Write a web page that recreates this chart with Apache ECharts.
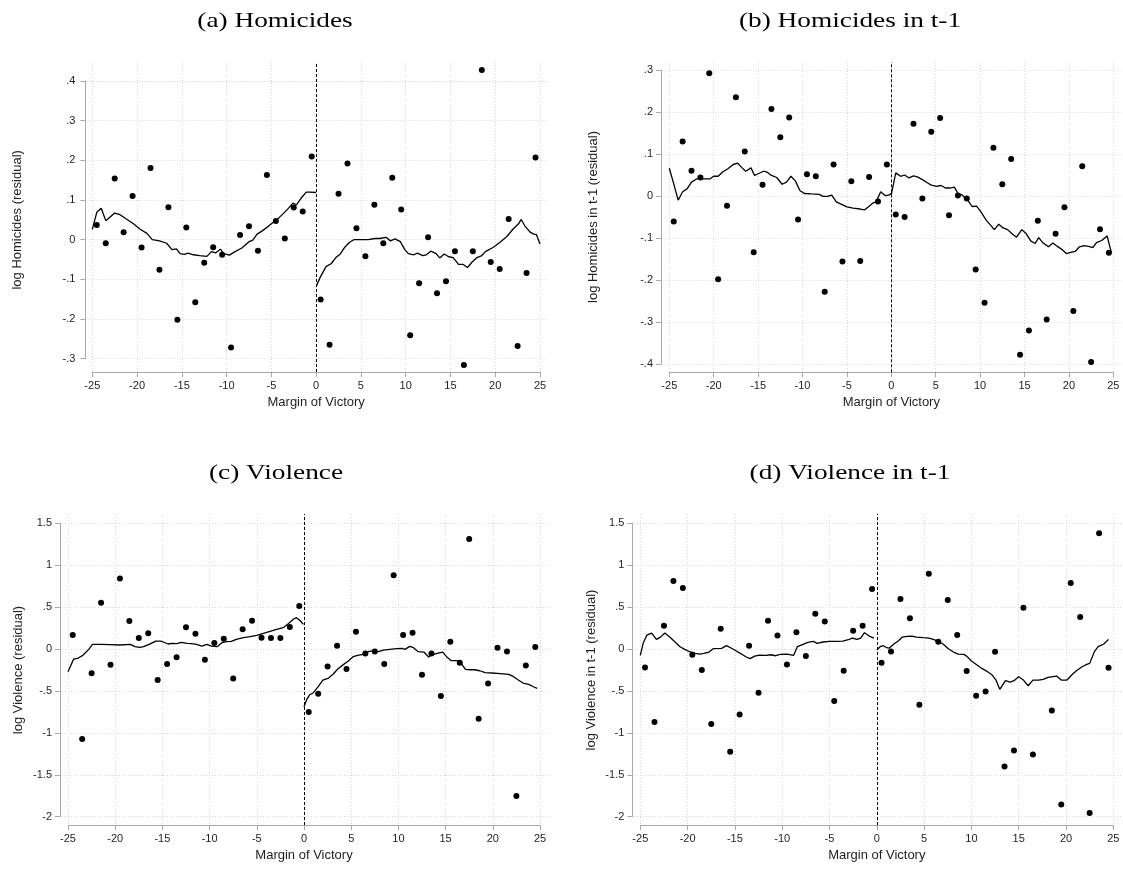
<!DOCTYPE html>
<html><head><meta charset="utf-8">
<script src="https://cdn.jsdelivr.net/npm/echarts@6/dist/echarts.min.js"></script>
<style>html,body{margin:0;padding:0;background:#fff}#c{width:1123px;height:869px}</style>
</head><body><div id="c"></div>
<script>
// ---------- data ----------
const binX = [-24.5,-23.5,-22.5,-21.5,-20.5,-19.5,-18.5,-17.5,-16.5,-15.5,-14.5,-13.5,-12.5,-11.5,-10.5,-9.5,-8.5,-7.5,-6.5,-5.5,-4.5,-3.5,-2.5,-1.5,-0.5,
              0.5,1.5,2.5,3.5,4.5,5.5,6.5,7.5,8.5,9.5,10.5,11.5,12.5,13.5,14.5,15.5,16.5,17.5,18.5,19.5,20.5,21.5,22.5,23.5,24.5];
const xTicks = [-25,-20,-15,-10,-5,0,5,10,15,20,25];
const yTicksHom = [-0.3,-0.2,-0.1,0,0.1,0.2,0.3,0.4];
const yTicksHomLag = [-0.4,-0.3,-0.2,-0.1,0,0.1,0.2,0.3];
const yTicksVio = [-2,-1.5,-1,-0.5,0,0.5,1,1.5];

const homDots = [0.037,-0.009,0.154,0.019,0.110,-0.020,0.181,-0.076,0.082,-0.202,0.031,-0.158,-0.058,-0.019,-0.038,-0.272,0.012,0.034,-0.028,0.163,0.047,0.003,0.081,0.071,0.210,
  -0.151,-0.265,0.116,0.192,0.029,-0.042,0.088,-0.009,0.156,0.076,-0.241,-0.110,0.006,-0.135,-0.105,-0.029,-0.316,-0.029,0.428,-0.056,-0.074,0.052,-0.268,-0.084,0.207];
const homFitL = [[-25,0.026],[-24.5,0.069],[-24,0.079],[-23.5,0.048],[-22.5,0.067],[-21.9,0.063],[-21.2,0.052],[-20.4,0.040],[-19.7,0.027],[-18.9,0.016],[-18.3,0.0],[-17.5,-0.003],[-16.7,-0.009],[-16.1,-0.025],[-15.6,-0.023],[-15.2,-0.035],[-14.7,-0.037],[-14.3,-0.034],[-13.7,-0.038],[-13,-0.04],[-12.2,-0.042],[-11.7,-0.03],[-11.2,-0.033],[-10.7,-0.024],[-10.3,-0.035],[-9.7,-0.039],[-9.2,-0.032],[-8.3,-0.021],[-7.5,-0.005],[-7.1,-0.002],[-6.6,0.014],[-6.1,0.021],[-5.5,0.031],[-5,0.040],[-4.4,0.050],[-3.7,0.065],[-3.1,0.079],[-2.6,0.092],[-2.2,0.088],[-1.6,0.107],[-1.1,0.12],[-0.7,0.12],[0,0.119]];
const homFitR = [[0,-0.118],[0.45,-0.095],[1.1,-0.068],[1.7,-0.06],[2.2,-0.045],[2.7,-0.036],[3.2,-0.019],[3.7,-0.007],[4.2,0.0],[5.1,0.0],[5.8,0.0],[6.6,0.003],[7.1,0.003],[7.8,0.006],[8.3,-0.003],[8.8,0.002],[9.4,-0.005],[9.9,-0.025],[10.3,-0.035],[10.9,-0.038],[11.3,-0.034],[11.9,-0.04],[12.3,-0.038],[12.8,-0.029],[13.4,-0.035],[13.8,-0.046],[14.3,-0.036],[14.8,-0.043],[15.3,-0.045],[15.9,-0.062],[16.4,-0.062],[16.9,-0.07],[17.4,-0.057],[17.9,-0.046],[18.5,-0.04],[18.9,-0.03],[19.8,-0.019],[20.5,-0.007],[21.3,0.008],[22,0.027],[22.6,0.04],[22.9,0.051],[23.3,0.035],[23.9,0.019],[24.3,0.014],[24.6,0.013],[25,-0.011]];

const homLagDots = [-0.061,0.130,0.060,0.044,0.292,-0.198,-0.023,0.235,0.106,-0.134,0.027,0.207,0.140,0.187,-0.056,0.052,0.047,-0.228,0.075,-0.156,0.035,-0.155,0.045,-0.013,0.075,
  -0.044,-0.050,0.172,-0.006,0.153,0.186,-0.046,0.001,-0.006,-0.175,-0.254,0.115,0.028,0.088,-0.378,-0.320,-0.059,-0.294,-0.090,-0.027,-0.274,0.071,-0.395,-0.079,-0.135];
const homLagFitL = [[-25,0.066],[-24.5,0.029],[-24,-0.010],[-23.5,0.01],[-23,0.017],[-22.5,0.033],[-21.9,0.041],[-21.2,0.041],[-20.4,0.041],[-20,0.047],[-19.5,0.047],[-19,0.057],[-18.4,0.065],[-17.8,0.075],[-17.3,0.078],[-16.8,0.067],[-16.4,0.059],[-15.8,0.067],[-15.4,0.049],[-15,0.053],[-14.4,0.059],[-14,0.057],[-13.5,0.049],[-12.9,0.044],[-12.3,0.028],[-11.8,0.033],[-11.3,0.047],[-10.8,0.036],[-10.3,0.013],[-9.8,0.006],[-9,0.005],[-8.1,0.004],[-7.7,-0.001],[-7.2,-0.001],[-6.7,0.002],[-6.2,-0.014],[-5.6,-0.020],[-5,-0.026],[-4.3,-0.029],[-3.5,-0.031],[-3,-0.033],[-2.6,-0.026],[-2.1,-0.017],[-1.7,-0.014],[-1.2,0.010],[-0.7,0.001],[-0.3,0.002],[0,0.006]];
const homLagFitR = [[0,0.003],[0.5,0.055],[1.05,0.047],[1.5,0.050],[2,0.043],[2.5,0.048],[3,0.045],[3.5,0.039],[4.1,0.031],[4.5,0.026],[5.1,0.023],[5.6,0.025],[6.1,0.019],[6.6,0.019],[7.1,0.021],[7.5,0.006],[8,0.002],[8.6,-0.010],[9.1,-0.025],[9.6,-0.024],[10.1,-0.038],[10.7,-0.058],[11.2,-0.07],[11.6,-0.08],[12.1,-0.067],[12.6,-0.076],[13.1,-0.08],[13.6,-0.09],[14.1,-0.098],[14.7,-0.08],[15.2,-0.09],[15.7,-0.107],[16.2,-0.113],[16.6,-0.099],[17.1,-0.112],[17.7,-0.121],[18.2,-0.112],[18.7,-0.12],[19.2,-0.127],[19.7,-0.137],[20.1,-0.135],[20.7,-0.132],[21.2,-0.121],[21.7,-0.118],[22.2,-0.12],[22.7,-0.123],[23.1,-0.111],[23.7,-0.106],[24.3,-0.095],[24.5,-0.094],[24.8,-0.136]];

const vioDots = [0.167,-1.074,-0.290,0.553,-0.187,0.843,0.334,0.131,0.187,-0.370,-0.179,-0.099,0.259,0.183,-0.127,0.072,0.123,-0.350,0.235,0.338,0.135,0.131,0.131,0.263,0.513,
  -0.752,-0.533,-0.207,0.040,-0.239,0.207,-0.052,-0.028,-0.179,0.879,0.167,0.195,-0.306,-0.052,-0.561,0.088,-0.163,1.313,-0.831,-0.410,0.016,-0.028,-1.754,-0.195,0.024];
const vioFitL = [[-25,-0.270],[-24.4,-0.119],[-23.9,-0.107],[-23.4,-0.072],[-22.8,-0.004],[-22.4,0.056],[-21.6,0.056],[-20.5,0.052],[-19.5,0.048],[-18.4,0.056],[-17.9,0.028],[-17.4,0.020],[-17,0.028],[-16.4,0.056],[-15.7,0.095],[-15.2,0.095],[-14.9,0.084],[-14.4,0.06],[-14,0.068],[-13.5,0.064],[-13,0.08],[-12.4,0.068],[-11.9,0.064],[-11.4,0.056],[-10.8,0.036],[-10.3,0.056],[-9.8,0.036],[-9.2,0.028],[-8.7,0.076],[-8.2,0.088],[-7.7,0.091],[-7.1,0.119],[-6.4,0.135],[-5.7,0.147],[-5,0.163],[-4.3,0.187],[-3.6,0.211],[-2.9,0.235],[-2.2,0.255],[-1.7,0.298],[-1.1,0.358],[-0.8,0.374],[-0.4,0.338],[-0.07,0.294]];
const vioFitR = [[0,-0.688],[0.3,-0.60],[0.6,-0.545],[1,-0.521],[1.5,-0.449],[2,-0.370],[2.6,-0.346],[3.1,-0.298],[3.6,-0.235],[4.2,-0.183],[4.7,-0.143],[5.2,-0.091],[5.8,-0.072],[6.3,-0.064],[6.8,-0.032],[7.4,-0.020],[7.9,-0.032],[8.4,-0.012],[9.1,-0.004],[9.8,0.004],[10.4,0.008],[10.7,-0.004],[11.2,0.032],[11.6,0.016],[12.1,-0.032],[12.7,-0.036],[13.2,-0.095],[13.5,-0.072],[14.1,-0.052],[14.7,-0.036],[15.1,-0.091],[15.6,-0.139],[16.2,-0.139],[16.6,-0.163],[17.1,-0.243],[17.6,-0.247],[18.1,-0.247],[18.6,-0.259],[19.2,-0.282],[19.9,-0.286],[20.8,-0.294],[21.7,-0.302],[22.2,-0.330],[22.7,-0.37],[23.2,-0.406],[23.8,-0.422],[24.3,-0.45],[24.7,-0.469]];

const vioLagDots = [-0.219,-0.871,0.278,0.811,0.728,-0.068,-0.251,-0.895,0.243,-1.225,-0.780,0.040,-0.521,0.338,0.163,-0.183,0.199,-0.084,0.422,0.330,-0.621,-0.259,0.219,0.278,0.716,
  -0.163,-0.028,0.597,0.366,-0.664,0.899,0.088,0.585,0.167,-0.263,-0.557,-0.505,-0.032,-1.400,-1.209,0.493,-1.257,null,-0.732,-1.854,0.788,0.382,-1.957,1.380,-0.223];
const vioLagFitL = [[-25,-0.076],[-24.7,0.068],[-24.3,0.167],[-23.8,0.191],[-23.3,0.115],[-22.9,0.139],[-22.4,0.191],[-21.8,0.135],[-21.3,0.080],[-20.8,0.028],[-20.3,-0.004],[-19.8,-0.032],[-19.2,-0.052],[-18.7,-0.060],[-18.3,-0.052],[-17.8,-0.040],[-17.3,0.004],[-16.4,0.008],[-15.9,0.040],[-15.4,0.012],[-14.9,-0.020],[-14.3,-0.060],[-13.8,-0.095],[-13.4,-0.115],[-12.9,-0.084],[-12.4,-0.072],[-11.7,-0.076],[-11.2,-0.068],[-10.7,-0.080],[-10.2,-0.064],[-9.5,-0.060],[-8.8,-0.076],[-8.4,0.028],[-7.8,0.056],[-7.3,0.080],[-6.7,0.091],[-6.3,0.068],[-5.7,0.084],[-5,0.091],[-4.3,0.091],[-3.6,0.095],[-3,0.111],[-2.6,0.131],[-2.1,0.115],[-1.7,0.131],[-1.3,0.195],[-0.8,0.155],[-0.3,0.131]];
const vioLagFitR = [[0,-0.012],[0.35,0.028],[0.7,0.040],[1.05,0.016],[1.3,0.010],[1.8,0.06],[2.3,0.099],[2.7,0.143],[3.2,0.151],[3.7,0.155],[4.2,0.143],[4.9,0.135],[5.5,0.131],[6,0.115],[6.5,0.088],[7,0.060],[7.6,0.0],[8.1,-0.036],[8.6,-0.060],[9.2,-0.064],[9.5,-0.084],[10,-0.143],[10.6,-0.191],[11.1,-0.231],[11.6,-0.263],[12.2,-0.310],[12.6,-0.370],[13,-0.481],[13.6,-0.378],[14.1,-0.394],[14.5,-0.378],[15,-0.330],[15.5,-0.370],[16,-0.438],[16.5,-0.370],[17.1,-0.370],[17.6,-0.362],[18.1,-0.338],[19,-0.322],[19.5,-0.370],[20.1,-0.370],[20.6,-0.310],[21.1,-0.259],[21.7,-0.211],[22.2,-0.183],[22.5,-0.171],[23,-0.032],[23.4,0.028],[24,0.060],[24.5,0.115]];

const titles = ['(a) Homicides', '(b) Homicides in t-1', '(c) Violence', '(d) Violence in t-1'];
const yNames = ['log Homicides (residual)', 'log Homicides in t-1 (residual)', 'log Violence (residual)', 'log Violence in t-1 (residual)'];
const xName = 'Margin of Victory';

// ---------- layout ----------
const panels = [
  {ti:0, yTicks:yTicksHom,    dots:homDots,    fitL:homFitL,    fitR:homFitR,
   L:92.3, W:447.7, T:81, H:277.7, yOff:7, xOff:13.3, pTop:62, pL:87.5, pR:548, yGap:61, yLabM:10, tx:275, ty:21},
  {ti:1, yTicks:yTicksHomLag, dots:homLagDots, fitL:homLagFitL, fitR:homLagFitR,
   L:669.3, W:444, T:70, H:294, yOff:8.3, xOff:8.3, pTop:62, pL:663.5, pR:1121.5, yGap:61, yLabM:8, tx:850, ty:21},
  {ti:2, yTicks:yTicksVio,    dots:vioDots,    fitL:vioFitL,    fitR:vioFitR,
   L:68, W:472, T:523.3, H:293.4, yOff:8, xOff:8.3, pTop:514, pL:62, pR:549.5, yGap:35.5, yLabM:8, tx:276, ty:473},
  {ti:3, yTicks:yTicksVio,    dots:vioLagDots, fitL:vioLagFitL, fitR:vioLagFitR,
   L:640.3, W:473, T:523.3, H:293.4, yOff:8, xOff:8.3, pTop:514, pL:634, pR:1122, yGap:34, yLabM:8, tx:850, ty:473}
];

const axisC = '#a9a9a9', gridC = '#d6d6d6', textC = '#1f1f1f';
const sans = '"Liberation Sans", Arial, sans-serif';
function fmt(v) {
  let s = String(Math.round(v * 100) / 100);
  return s.replace(/^(-?)0\./, '$1.');
}

const grid = [], xAxis = [], yAxis = [], series = [], graphic = [];
panels.forEach((p) => {
  const gi = grid.length;
  const yMin = p.yTicks[0], yMax = p.yTicks[p.yTicks.length - 1], yInt = p.yTicks[1] - p.yTicks[0];
  const xMin = xTicks[0], xMax = xTicks[xTicks.length - 1], xInt = xTicks[1] - xTicks[0];
  const bottom = p.T + p.H + p.xOff;
  grid.push({left:p.L, top:p.T, width:p.W, height:p.H, containLabel:false, outerBoundsMode:'none'});
  grid.push({left:p.L, top:p.pTop, width:p.W, height:bottom - p.pTop, containLabel:false, outerBoundsMode:'none'});
  grid.push({left:p.pL, top:p.T, width:p.pR - p.pL, height:p.H, containLabel:false, outerBoundsMode:'none'});

  // main axes
  xAxis.push({gridIndex:gi, type:'value', min:xMin, max:xMax, interval:xInt, offset:p.xOff, z:3,
    axisLine:{show:true, onZero:false, lineStyle:{color:axisC, width:1}},
    axisTick:{show:true, length:5, lineStyle:{color:axisC, width:1}},
    axisLabel:{show:true, margin:8, fontSize:11, fontFamily:sans, color:textC, formatter:fmt},
    splitLine:{show:false},
    name:xName, nameLocation:'middle', nameGap:24,
    nameTextStyle:{fontSize:13, fontFamily:sans, color:textC}});
  yAxis.push({gridIndex:gi, type:'value', min:yMin, max:yMax, interval:yInt, offset:p.yOff, z:3,
    axisLine:{show:true, onZero:false, lineStyle:{color:axisC, width:1}},
    axisTick:{show:true, length:5, lineStyle:{color:axisC, width:1}},
    axisLabel:{show:true, margin:p.yLabM, fontSize:11, fontFamily:sans, color:textC, formatter:fmt},
    splitLine:{show:false},
    name:yNames[p.ti], nameLocation:'middle', nameGap:p.yGap,
    nameTextStyle:{fontSize:13, fontFamily:sans, color:textC}});
  // vertical grid lines
  xAxis.push({gridIndex:gi+1, type:'value', min:xMin, max:xMax, interval:xInt,
    axisLine:{show:false}, axisTick:{show:false}, axisLabel:{show:false},
    splitLine:{show:true, lineStyle:{color:gridC, width:1, type:[1,2]}}});
  yAxis.push({gridIndex:gi+1, type:'value', min:0, max:1, show:false});
  // horizontal grid lines
  xAxis.push({gridIndex:gi+2, type:'value', min:0, max:1, show:false});
  yAxis.push({gridIndex:gi+2, type:'value', min:yMin, max:yMax, interval:yInt,
    axisLine:{show:false}, axisTick:{show:false}, axisLabel:{show:false},
    splitLine:{show:true, lineStyle:{color:gridC, width:1, type:[1,2]}}});

  const pts = [];
  binX.forEach((x, k) => { if (p.dots[k] != null) pts.push([x, p.dots[k]]); });
  series.push({type:'scatter', xAxisIndex:gi, yAxisIndex:gi, data:pts, symbol:'circle', symbolSize:6,
    itemStyle:{color:'#000', opacity:1}, clip:false, z:4, silent:true});
  [p.fitL, p.fitR].forEach(f => series.push({type:'line', xAxisIndex:gi, yAxisIndex:gi, data:f,
    showSymbol:false, symbol:'none', lineStyle:{color:'#000', width:1.3}, clip:false, z:3, silent:true}));
  series.push({type:'line', xAxisIndex:gi+1, yAxisIndex:gi+1, data:[], z:2,
    markLine:{silent:true, symbol:['none','none'], label:{show:false}, animation:false,
      lineStyle:{color:'#000', width:1, type:[3,2]}, data:[{xAxis:0}]}});

  graphic.push({type:'text', x:p.tx, y:p.ty, scaleX:1.3, scaleY:1,
    style:{text:titles[p.ti], fontSize:21, fontFamily:'"Liberation Serif", "Times New Roman", serif',
      fill:'#000', align:'center', verticalAlign:'middle', textAlign:'center', textVerticalAlign:'middle'}});
});

const chart = echarts.init(document.getElementById('c'), null, {renderer:'canvas'});
chart.setOption({animation:false, backgroundColor:'#fff', grid, xAxis, yAxis, series, graphic});
</script></body></html>
